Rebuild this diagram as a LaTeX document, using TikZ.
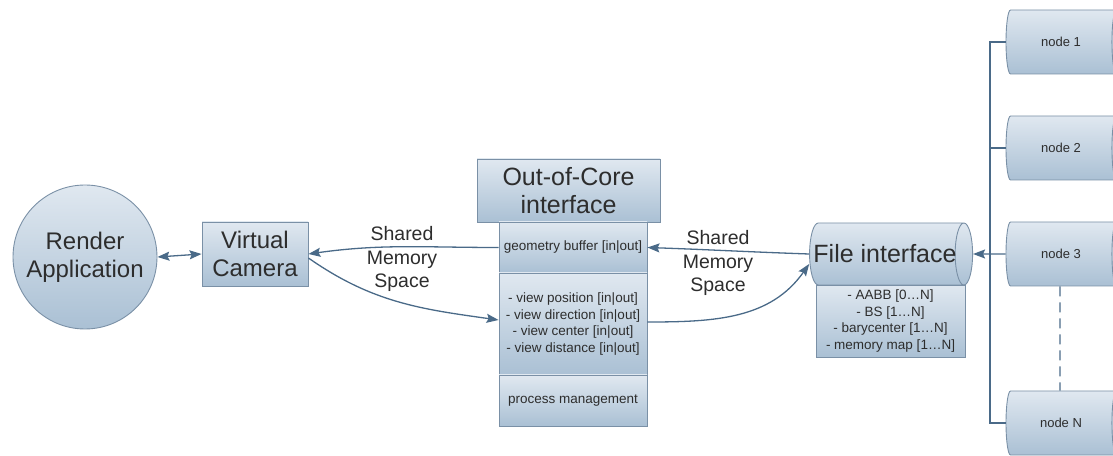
\documentclass[tikz,border=0pt]{standalone}
\usepackage{fontspec}
\setmainfont{Liberation Sans}
\usetikzlibrary{shapes.geometric,arrows.meta}
\definecolor{topc}{RGB}{224,232,240}
\definecolor{botc}{RGB}{170,192,212}
\definecolor{edgec}{RGB}{122,144,166}
\definecolor{arrc}{RGB}{74,106,136}
\definecolor{txtc}{RGB}{45,45,45}
\tikzset{
  shaded/.style={draw=edgec, line width=0.9pt, top color=topc, bottom color=botc,
    text=txtc, align=center, inner sep=0pt},
  bigtxt/.style={font=\fontsize{24}{28}\selectfont},
  hugetxt/.style={font=\fontsize{25}{28}\selectfont},
  smalltxt/.style={font=\fontsize{13.5}{16.7}\selectfont},
  nodetxt/.style={font=\fontsize{13}{15}\selectfont},
  labeltxt/.style={font=\fontsize{19.5}{23.5}\selectfont, text=txtc, align=center},
  cyl/.style={shaded, cylinder, shape aspect=0.95},
  conn/.style={draw=arrc, line width=1.3pt, -{Stealth[length=12pt,width=9pt,inset=2pt]}},
  twoway/.style={draw=arrc, line width=1.3pt, {Stealth[length=12pt,width=9pt,inset=2pt]}-{Stealth[length=12pt,width=9pt,inset=2pt]}},
  bus/.style={draw=arrc, line width=1.3pt},
}
\begin{document}
\begin{tikzpicture}[x=1pt,y=1pt]
\useasboundingbox (0,0) rectangle (1113,455);
\clip (0,0) rectangle (1113,455);

\node[shaded, circle, minimum size=144pt, bigtxt] (render) at (85,198) {Render\\Application};
\node[shaded, rectangle, minimum width=106pt, minimum height=64pt, bigtxt] (camera) at (255,201) {Virtual\\Camera};

\node[shaded, minimum width=183pt, minimum height=63pt, hugetxt] (ooc) at (568.5,264.5) {Out-of-Core\\interface};
\node[shaded, minimum width=148pt, minimum height=51pt, smalltxt] (geom) at (573,207.5) {geometry buffer [in|out]};
\node[shaded, minimum width=148pt, minimum height=102pt, smalltxt] (view) at (573,131) {- view position [in|out]\\- view direction [in|out]\\- view center [in|out]\\- view distance [in|out]};
\node[shaded, minimum width=148pt, minimum height=51pt, smalltxt] (proc) at (573,54.5) {process management};

\node[shaded, minimum width=149pt, minimum height=72pt, smalltxt] (filebox) at (890.5,134) {- AABB [0…N]\\- BS [1…N]\\- barycenter [1…N]\\- memory map [1…N]};
\node[cyl, minimum height=163pt, minimum width=62pt, hugetxt] (file) at (886.5,201) {\makebox[0pt]{File interface\hspace*{3pt}}};

\node[cyl, minimum height=115pt, minimum width=64pt, nodetxt] (node1) at (1061,413) {node 1};
\node[cyl, minimum height=115pt, minimum width=64pt, nodetxt] (node2) at (1061,307) {node 2};
\node[cyl, minimum height=115pt, minimum width=64pt, nodetxt] (node3) at (1061,201) {node 3};
\node[cyl, minimum height=115pt, minimum width=64pt, nodetxt] (nodeN) at (1061,32) {node N};

\node[labeltxt] (sms1) at (402,196) {Shared\\Memory\\Space};
\node[labeltxt] (sms2) at (718,192) {Shared\\Memory\\Space};

\draw[twoway] (render.east) -- (camera.west);
\draw[conn] (geom.west) to[out=180,in=8] (camera.east);
\draw[conn] ([yshift=-4pt]camera.east) to[out=-35,in=172] ([yshift=4pt]view.west);
\draw[conn] (file.west) to[out=178,in=-2] (geom.east);
\draw[conn] ([yshift=2pt]view.east) to[out=0,in=-125] ([yshift=-10pt]file.west);

\coordinate (btop) at (990,413);
\coordinate (bbot) at (990,32);
\draw[bus] (node1.west) -- (btop) -- (bbot) -- (nodeN.west);
\draw[bus] (node2.west) -- (node2.west -| btop);
\draw[conn] (node3.west) -- (file.east);
\draw[bus, dash pattern=on 10pt off 6pt] ([xshift=-1pt]node3.south) -- ([xshift=-1pt]nodeN.north);
\end{tikzpicture}
\end{document}
